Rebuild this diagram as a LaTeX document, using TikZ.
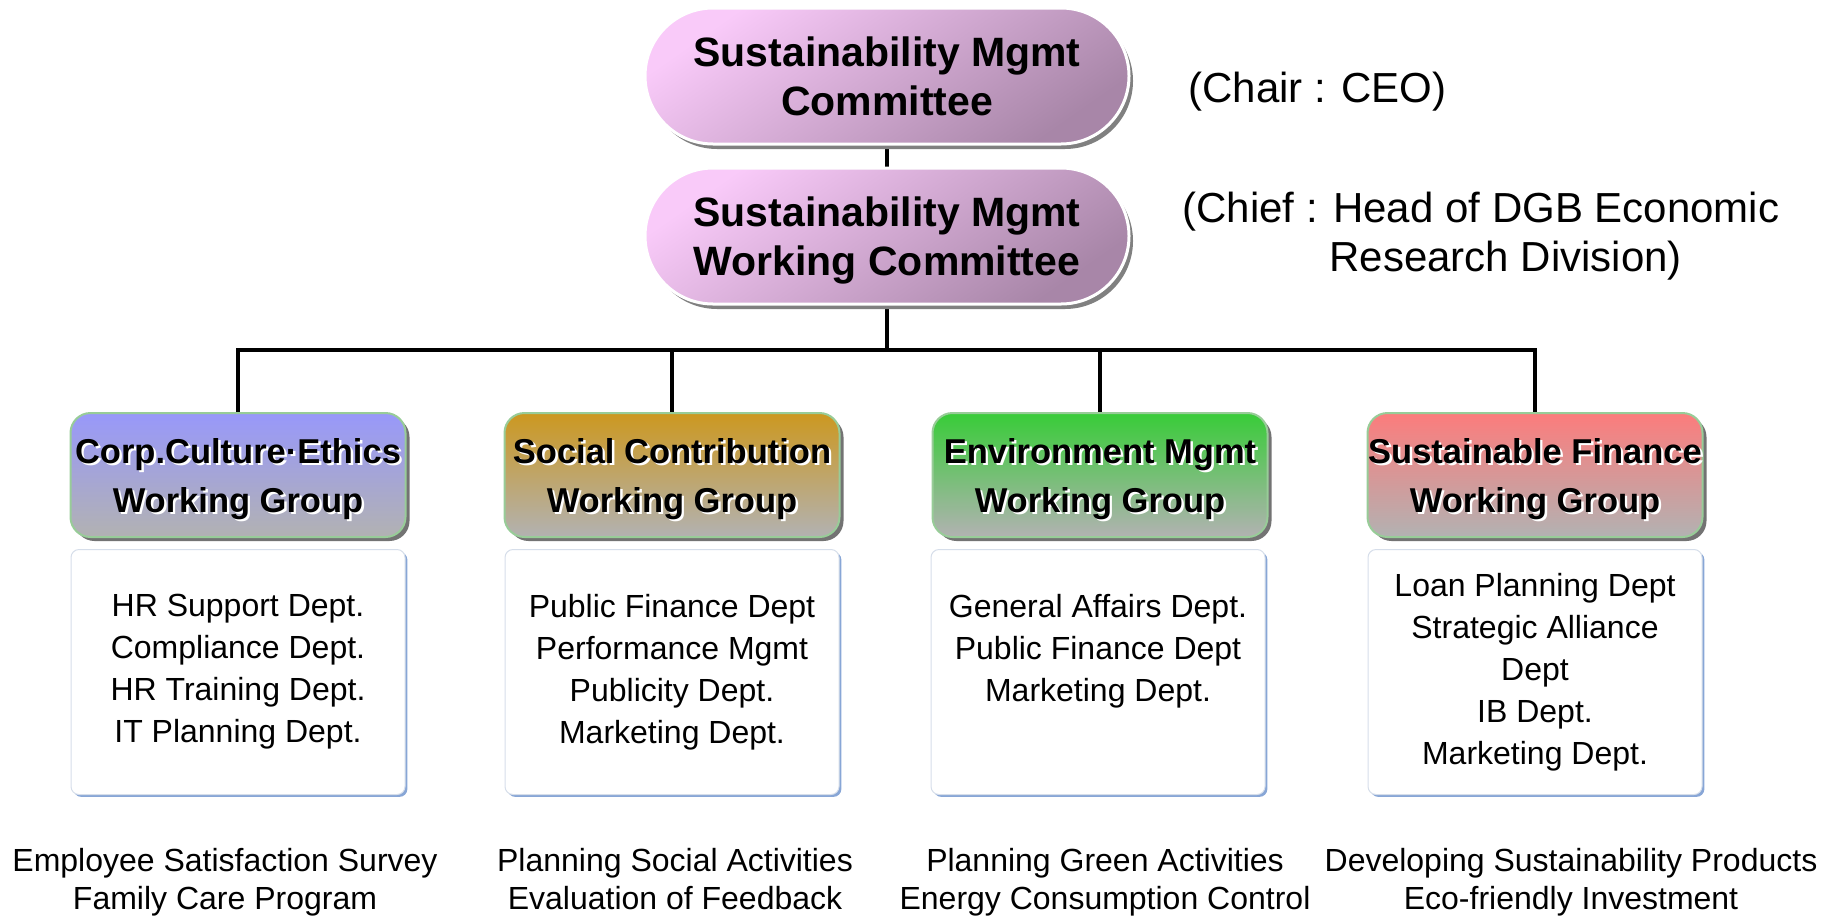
\documentclass[tikz,border=0pt]{standalone}
\usepackage{fontspec}
\setmainfont{Liberation Sans}
\usetikzlibrary{shadows,backgrounds}

\definecolor{pinktop}{HTML}{F9CAF9}
\definecolor{pinkbot}{HTML}{A886A8}
\definecolor{greytone}{HTML}{B2B2B2}
\definecolor{culture}{HTML}{9898FA}
\definecolor{social}{HTML}{CC9820}
\definecolor{environ}{HTML}{38CC38}
\definecolor{finance}{HTML}{FC7C7C}
\definecolor{greenrim}{HTML}{98CC98}
\definecolor{bluerim}{HTML}{D6DEEA}
\definecolor{blueshade}{HTML}{88A6D6}

\newcommand{\glow}[1]{\rlap{\kern1.2pt\raisebox{-1.2pt}{\color{white}#1}}#1}
\newcommand{\lift}[1]{\rule{0pt}{#1}}

\tikzset{
  committee/.style={rectangle, rounded corners=34pt, minimum width=242pt, minimum height=68pt,
    draw=white, line width=1.5pt, top color=pinktop, bottom color=pinkbot, shading angle=35,
    drop shadow={shadow xshift=2pt, shadow yshift=-2.5pt, fill=black!50, opacity=1},
    align=center, font=\fontsize{20.5}{24.5}\selectfont\bfseries, inner sep=0pt},
  wgroup/.style={rectangle, rounded corners=10pt, minimum width=167.5pt, minimum height=62pt,
    draw=greenrim, line width=1pt, top color=#1, bottom color=greytone,
    drop shadow={shadow xshift=2pt, shadow yshift=-2pt, fill=black!55, opacity=1},
    align=center, font=\fontsize{17.25}{24.5}\selectfont\bfseries, inner sep=0pt},
  dept/.style={rectangle, rounded corners=4pt, minimum width=167pt, minimum height=122.5pt,
    draw=bluerim, line width=0.5pt, fill=white,
    drop shadow={shadow xshift=1.2pt, shadow yshift=-1.2pt, fill=blueshade, opacity=1},
    align=center, font=\fontsize{16}{21}\selectfont, inner sep=0pt},
  task/.style={align=center, anchor=north, font=\fontsize{16}{19}\selectfont, inner sep=0pt},
  chairnote/.style={align=left, anchor=west, font=\fontsize{21}{24.5}\selectfont, inner sep=0pt},
  connector/.style={line width=2pt}
}

\begin{document}
\begin{tikzpicture}[x=0.5pt, y=-0.5pt]
  \useasboundingbox (0,0) rectangle (1841,916);

  % committees
  \node[committee] (board) at (887,76) {Sustainability Mgmt\\Committee};
  \node[committee] (council) at (887,236) {\lift{19pt}Sustainability Mgmt\\Working Committee};

  % chair notes
  \node[chairnote] (chair) at (1188,92) {(Chair : CEO)};
  \node[chairnote] (chief) at (1182,236) {(Chief : Head of DGB Economic\\\hspace*{73.5pt}Research Division)};

  % working groups
  \node[wgroup=culture] (g1) at (238,475) {\lift{17.5pt}\glow{Corp.Culture·Ethics}\\\glow{Working Group}};
  \node[wgroup=social] (g2) at (672,475) {\lift{17.5pt}\glow{Social Contribution}\\\glow{Working Group}};
  \node[wgroup=environ] (g3) at (1100,475) {\lift{17.5pt}\glow{Environment Mgmt}\\\glow{Working Group}};
  \node[wgroup=finance] (g4) at (1535,475) {\lift{17.5pt}\glow{Sustainable Finance}\\\glow{Working Group}};

  % departments
  \node[dept] (d1) at (238,672) {HR Support Dept.\\Compliance Dept.\\HR Training Dept.\\IT Planning Dept.};
  \node[dept] (d2) at (672,672) {Public Finance Dept\\Performance Mgmt\\Publicity Dept.\\Marketing Dept.};
  \node[dept] (d3) at (1098,672) {General Affairs Dept.\\Public Finance Dept\\Marketing Dept.\\\vphantom{p}};
  \node[dept] (d4) at (1535,672) {Loan Planning Dept\\Strategic Alliance\\Dept\\IB Dept.\\Marketing Dept.};

  % activities
  \node[task] (a1) at (225,848) {Employee Satisfaction Survey\\Family Care Program};
  \node[task] (a2) at (675,848) {Planning Social Activities\\Evaluation of Feedback};
  \node[task] (a3) at (1105,848) {Planning Green Activities\\Energy Consumption Control};
  \node[task] (a4) at (1571,848) {Developing Sustainability Products\\Eco-friendly Investment};

  % lines
  \begin{scope}[on background layer]
    \coordinate (hub) at (887,350);
    \draw[connector] (board) -- (council);
    \draw[connector] (council) -- (hub);
    \foreach \g in {g1,g2,g3,g4}
      \draw[connector] (hub) -| (\g);
  \end{scope}
\end{tikzpicture}
\end{document}
